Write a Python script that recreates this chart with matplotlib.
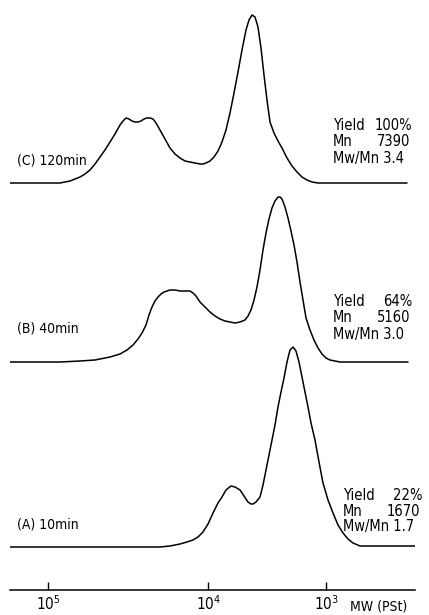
import matplotlib
matplotlib.use("Agg")
import matplotlib.pyplot as plt

plt.rcParams['font.family'] = ['DejaVu Sans']
plt.rcParams['font.stretch'] = 'condensed'
plt.rcParams['mathtext.default'] = 'regular'

# GPC traces: elution position (counts) and detector response (arb.)
elution_C = [1.0, 5.5, 6.0, 6.5, 7.0, 7.5, 8.0, 8.5, 9.0, 9.5, 10.0, 10.5, 11.0, 11.5, 12.0,
             12.3, 12.6, 12.9, 13.2, 13.5, 13.8, 14.1, 14.4, 14.7, 15.0, 15.3, 15.6, 16.0,
             16.5, 17.0, 17.5, 18.0, 18.5, 19.0, 19.5, 20.0, 20.3, 20.6, 21.0, 21.4, 21.8,
             22.2, 22.6, 23.0, 23.4, 23.8, 24.2, 24.6, 24.9, 25.2, 25.5, 25.8, 26.1, 26.4,
             26.7, 27.0, 27.4, 27.8, 28.2, 28.7, 29.2, 29.7, 30.2, 30.7, 31.2, 31.8, 40.7]
response_C = [0, 0, 0, 1, 2, 4, 6, 9, 13, 19, 26, 33, 41, 49, 58,
              62, 65, 64, 62, 61, 61, 62, 64, 65, 65, 64, 60, 53,
              44, 35, 29, 25, 22, 21, 20, 19, 19, 20, 22, 26, 32,
              41, 53, 70, 90, 111, 133, 153, 163, 168, 166, 156, 135, 108,
              83, 61, 50, 42, 35, 25, 17, 11, 6, 3, 1, 0, 0]

elution_B = [1.0, 6.0, 8.0, 9.5, 11.0, 12.0, 12.7, 13.3, 13.8, 14.2, 14.6, 14.9, 15.2, 15.5,
             15.8, 16.1, 16.4, 16.7, 17.0, 17.5, 18.0, 18.5, 19.0, 19.3, 19.6, 20.0, 20.5,
             21.0, 21.5, 22.0, 22.5, 23.0, 23.5, 24.0, 24.5, 24.8, 25.1, 25.4, 25.7, 26.0,
             26.3, 26.6, 26.9, 27.2, 27.5, 27.8, 28.0, 28.2, 28.5, 28.8, 29.1, 29.4, 29.7,
             30.0, 30.3, 30.6, 31.0, 31.4, 31.8, 32.2, 32.6, 33.0, 33.5, 34.0, 40.8]
response_B = [0, 0, 1, 2, 5, 8, 12, 17, 23, 29, 37, 47, 55, 61,
              65, 68, 70, 71, 72, 72, 71, 71, 71, 69, 66, 60, 55,
              50, 46, 43, 41, 40, 39, 40, 42, 46, 52, 62, 75, 92,
              112, 129, 143, 154, 161, 165, 165, 163, 155, 144, 131, 117, 100,
              80, 62, 44, 32, 22, 14, 8, 4, 2, 1, 0, 0]

elution_A = [1.0, 16.0, 17.0, 18.0, 18.7, 19.3, 19.8, 20.3, 20.8, 21.3, 21.8, 22.2, 22.6,
             23.1, 23.5, 24.0, 24.4, 24.8, 25.1, 25.3, 25.6, 26.0, 26.3, 26.6, 26.9, 27.2,
             27.5, 27.8, 28.1, 28.4, 28.7, 29.0, 29.3, 29.6, 29.9, 30.2, 30.5, 30.8, 31.1,
             31.5, 31.9, 32.3, 32.8, 33.3, 33.8, 34.3, 34.8, 35.3, 36.0, 41.5]
response_A = [0, 0, 1, 3, 5, 7, 10, 15, 23, 34, 44, 50, 57,
              61, 60, 57, 51, 45, 43, 43, 45, 50, 62, 77, 92, 107,
              122, 140, 155, 169, 185, 197, 200, 196, 185, 170, 155, 140, 124,
              107, 85, 64, 47, 34, 22, 14, 8, 4, 1, 1]

baselines = [407, 228, 43]
trace_labels = ["(C) 120min", "(B) 40min", "(A) 10min"]
label_heights = [429, 262, 65]
yields = ["100%", "64%", "22%"]
mn_values = ["7390", "5160", "1670"]
dispersity = ["3.4", "3.0", "1.7"]
info_heights = [464, 288, 95]

mw_tick_pos = [4.83, 20.83, 32.6]
mw_tick_labels = [r"$10^5$", r"$10^4$", r"$10^3$"]

fig = plt.figure(figsize=(4.29, 6.15), dpi=100)
ax = fig.add_axes([10 / 429, 25 / 615, 405 / 429, 590 / 615])

traces = [(elution_C, response_C), (elution_B, response_B), (elution_A, response_A)]
for (xs, ys), base in zip(traces, baselines):
    ax.plot(xs, [y + base for y in ys], color="black", lw=1.1,
            solid_joinstyle="round", solid_capstyle="round")

for lab, h in zip(trace_labels, label_heights):
    ax.text(1.7, h, lab, fontsize=10, va="center", ha="left")

for i in range(3):
    h = info_heights[i]
    x0 = 33.3 if i < 2 else 34.3
    x1 = 41.2 if i < 2 else 42.2
    ax.text(x0, h, "Yield", fontsize=10.5, va="center", ha="left")
    ax.text(x1, h, yields[i], fontsize=10.5, va="center", ha="right")
    ax.text(x0, h - 16, "Mn", fontsize=10.5, va="center", ha="left")
    ax.text(x1 - 0.2, h - 16, mn_values[i], fontsize=10.5, va="center", ha="right")
    ax.text(x0, h - 32, "Mw/Mn " + dispersity[i], fontsize=10.5, va="center", ha="left")

ax.set_xlim(1.0, 41.5)
ax.set_ylim(0, 590)
for side in ["top", "left", "right"]:
    ax.spines[side].set_visible(False)
ax.spines["bottom"].set_linewidth(1.1)
ax.set_yticks([])
ax.set_xticks(mw_tick_pos)
ax.set_xticklabels(mw_tick_labels, fontsize=11)
ax.tick_params(axis="x", direction="in", length=6, width=1.0, pad=3)
ax.patch.set_alpha(0)
fig.text(350 / 429, 1 - 606 / 615, "MW (PSt)", fontsize=10, va="center", ha="left")

fig.savefig("out.png", dpi=100)
